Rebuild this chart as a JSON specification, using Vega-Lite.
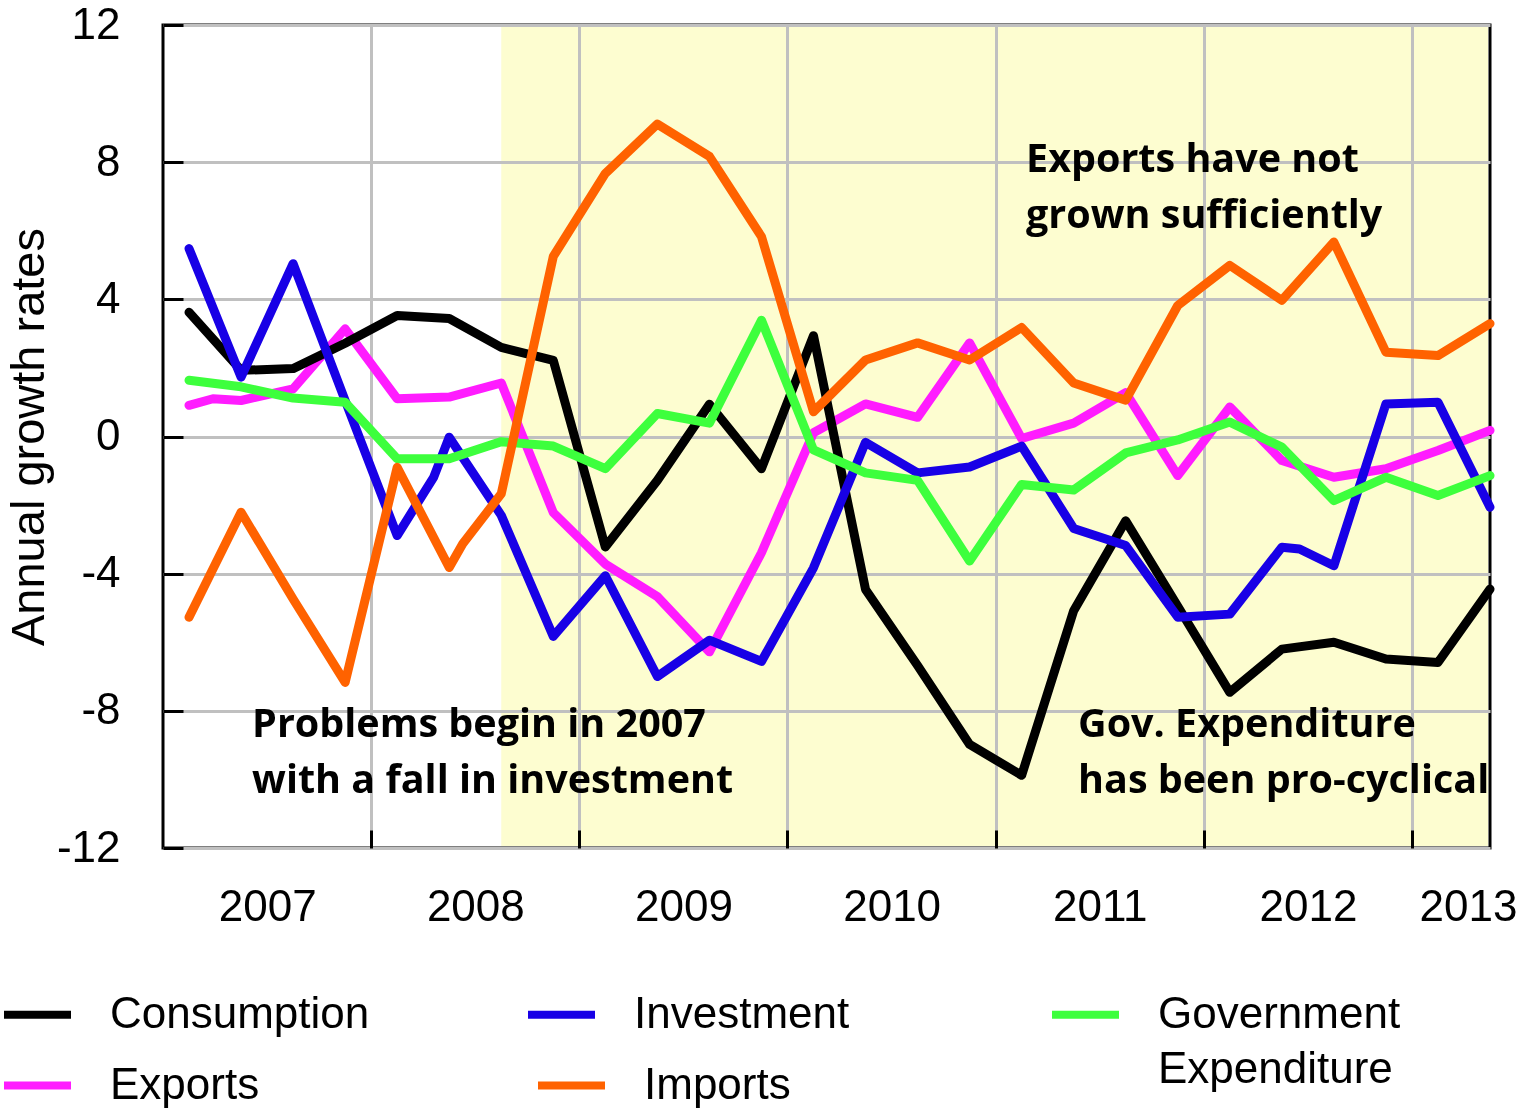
{
  "$schema": "https://vega.github.io/schema/vega-lite/v6.json",
  "width": 1327,
  "height": 823,
  "autosize": {"type": "none"},
  "padding": {"left": 163, "top": 25, "right": 28, "bottom": 263},
  "background": "white",
  "config": {
    "view": {"stroke": "black", "strokeWidth": 3},
    "font": "Liberation Sans",
    "axis": {"labelFont": "Liberation Sans", "labelColor": "black", "titleFont": "Liberation Sans", "titleColor": "black"},
    "legend": {
      "orient": "none", "direction": "horizontal", "title": null, "padding": 0, "gridAlign": "all",
      "symbolType": "stroke", "symbolSize": 4489, "symbolStrokeWidth": 8,
      "labelFont": "Liberation Sans", "labelFontSize": 44, "labelColor": "black", "labelLimit": 1000, "labelOffset": 35
    },
    "style": {"guide-label": {"lineHeight": 55}}
  },
  "datasets": {
    "band": [{"start": 2008.625, "end": 2013.375}],
    "notes": [
      {"x": 2011.146, "y": 7.71, "label": "Exports have not"},
      {"x": 2011.146, "y": 6.08, "label": "grown sufficiently"},
      {"x": 2007.428, "y": -8.76, "label": "Problems begin in 2007"},
      {"x": 2007.428, "y": -10.4, "label": "with a fall in investment"},
      {"x": 2011.396, "y": -8.76, "label": "Gov. Expenditure"},
      {"x": 2011.396, "y": -10.4, "label": "has been pro-cyclical"}
    ],
    "series": [
      {"t": 2007.125, "s": "Consumption", "v": 3.62},
      {"t": 2007.375, "s": "Consumption", "v": 1.93},
      {"t": 2007.625, "s": "Consumption", "v": 1.98},
      {"t": 2007.875, "s": "Consumption", "v": 2.72},
      {"t": 2008.125, "s": "Consumption", "v": 3.53},
      {"t": 2008.375, "s": "Consumption", "v": 3.44},
      {"t": 2008.625, "s": "Consumption", "v": 2.6},
      {"t": 2008.875, "s": "Consumption", "v": 2.22},
      {"t": 2009.125, "s": "Consumption", "v": -3.22},
      {"t": 2009.375, "s": "Consumption", "v": -1.28},
      {"t": 2009.625, "s": "Consumption", "v": 0.94},
      {"t": 2009.875, "s": "Consumption", "v": -0.94},
      {"t": 2010.125, "s": "Consumption", "v": 2.94},
      {"t": 2010.375, "s": "Consumption", "v": -4.46},
      {"t": 2010.625, "s": "Consumption", "v": -6.68},
      {"t": 2010.875, "s": "Consumption", "v": -8.98},
      {"t": 2011.125, "s": "Consumption", "v": -9.88},
      {"t": 2011.375, "s": "Consumption", "v": -5.08},
      {"t": 2011.625, "s": "Consumption", "v": -2.46},
      {"t": 2011.875, "s": "Consumption", "v": -4.95},
      {"t": 2012.125, "s": "Consumption", "v": -7.46},
      {"t": 2012.375, "s": "Consumption", "v": -6.2},
      {"t": 2012.625, "s": "Consumption", "v": -6.0},
      {"t": 2012.875, "s": "Consumption", "v": -6.49},
      {"t": 2013.125, "s": "Consumption", "v": -6.59},
      {"t": 2013.375, "s": "Consumption", "v": -4.45},

      {"t": 2007.125, "s": "Investment", "v": 5.48},
      {"t": 2007.375, "s": "Investment", "v": 1.73},
      {"t": 2007.625, "s": "Investment", "v": 5.04},
      {"t": 2007.875, "s": "Investment", "v": 1.05},
      {"t": 2008.125, "s": "Investment", "v": -2.89},
      {"t": 2008.3, "s": "Investment", "v": -1.19},
      {"t": 2008.375, "s": "Investment", "v": -0.02},
      {"t": 2008.625, "s": "Investment", "v": -2.3},
      {"t": 2008.875, "s": "Investment", "v": -5.83},
      {"t": 2009.125, "s": "Investment", "v": -4.06},
      {"t": 2009.375, "s": "Investment", "v": -7.0},
      {"t": 2009.625, "s": "Investment", "v": -5.94},
      {"t": 2009.875, "s": "Investment", "v": -6.56},
      {"t": 2010.125, "s": "Investment", "v": -3.83},
      {"t": 2010.375, "s": "Investment", "v": -0.17},
      {"t": 2010.625, "s": "Investment", "v": -1.06},
      {"t": 2010.875, "s": "Investment", "v": -0.89},
      {"t": 2011.125, "s": "Investment", "v": -0.28},
      {"t": 2011.375, "s": "Investment", "v": -2.68},
      {"t": 2011.625, "s": "Investment", "v": -3.18},
      {"t": 2011.875, "s": "Investment", "v": -5.27},
      {"t": 2012.125, "s": "Investment", "v": -5.18},
      {"t": 2012.375, "s": "Investment", "v": -3.23},
      {"t": 2012.46, "s": "Investment", "v": -3.28},
      {"t": 2012.625, "s": "Investment", "v": -3.77},
      {"t": 2012.875, "s": "Investment", "v": 0.95},
      {"t": 2013.125, "s": "Investment", "v": 1.0},
      {"t": 2013.375, "s": "Investment", "v": -2.06},

      {"t": 2007.125, "s": "Government Expenditure", "v": 1.64},
      {"t": 2007.375, "s": "Government Expenditure", "v": 1.45},
      {"t": 2007.625, "s": "Government Expenditure", "v": 1.12},
      {"t": 2007.875, "s": "Government Expenditure", "v": 1.0},
      {"t": 2008.125, "s": "Government Expenditure", "v": -0.65},
      {"t": 2008.375, "s": "Government Expenditure", "v": -0.65},
      {"t": 2008.625, "s": "Government Expenditure", "v": -0.15},
      {"t": 2008.875, "s": "Government Expenditure", "v": -0.28},
      {"t": 2009.125, "s": "Government Expenditure", "v": -0.94},
      {"t": 2009.375, "s": "Government Expenditure", "v": 0.67},
      {"t": 2009.625, "s": "Government Expenditure", "v": 0.39},
      {"t": 2009.875, "s": "Government Expenditure", "v": 3.39},
      {"t": 2010.125, "s": "Government Expenditure", "v": -0.39},
      {"t": 2010.375, "s": "Government Expenditure", "v": -1.06},
      {"t": 2010.625, "s": "Government Expenditure", "v": -1.28},
      {"t": 2010.875, "s": "Government Expenditure", "v": -3.63},
      {"t": 2011.125, "s": "Government Expenditure", "v": -1.4},
      {"t": 2011.375, "s": "Government Expenditure", "v": -1.56},
      {"t": 2011.625, "s": "Government Expenditure", "v": -0.48},
      {"t": 2011.875, "s": "Government Expenditure", "v": -0.1},
      {"t": 2012.125, "s": "Government Expenditure", "v": 0.42},
      {"t": 2012.375, "s": "Government Expenditure", "v": -0.31},
      {"t": 2012.625, "s": "Government Expenditure", "v": -1.87},
      {"t": 2012.875, "s": "Government Expenditure", "v": -1.19},
      {"t": 2013.125, "s": "Government Expenditure", "v": -1.72},
      {"t": 2013.375, "s": "Government Expenditure", "v": -1.14},

      {"t": 2007.125, "s": "Exports", "v": 0.91},
      {"t": 2007.24, "s": "Exports", "v": 1.1},
      {"t": 2007.375, "s": "Exports", "v": 1.05},
      {"t": 2007.625, "s": "Exports", "v": 1.39},
      {"t": 2007.875, "s": "Exports", "v": 3.14},
      {"t": 2008.125, "s": "Exports", "v": 1.1},
      {"t": 2008.375, "s": "Exports", "v": 1.15},
      {"t": 2008.625, "s": "Exports", "v": 1.56},
      {"t": 2008.875, "s": "Exports", "v": -2.22},
      {"t": 2009.125, "s": "Exports", "v": -3.72},
      {"t": 2009.375, "s": "Exports", "v": -4.67},
      {"t": 2009.625, "s": "Exports", "v": -6.28},
      {"t": 2009.875, "s": "Exports", "v": -3.39},
      {"t": 2010.125, "s": "Exports", "v": 0.11},
      {"t": 2010.375, "s": "Exports", "v": 0.95},
      {"t": 2010.625, "s": "Exports", "v": 0.56},
      {"t": 2010.875, "s": "Exports", "v": 2.73},
      {"t": 2011.125, "s": "Exports", "v": -0.06},
      {"t": 2011.375, "s": "Exports", "v": 0.39},
      {"t": 2011.625, "s": "Exports", "v": 1.28},
      {"t": 2011.875, "s": "Exports", "v": -1.14},
      {"t": 2012.125, "s": "Exports", "v": 0.86},
      {"t": 2012.375, "s": "Exports", "v": -0.7},
      {"t": 2012.625, "s": "Exports", "v": -1.19},
      {"t": 2012.875, "s": "Exports", "v": -0.94},
      {"t": 2013.125, "s": "Exports", "v": -0.41},
      {"t": 2013.375, "s": "Exports", "v": 0.18},

      {"t": 2007.125, "s": "Imports", "v": -5.27},
      {"t": 2007.375, "s": "Imports", "v": -2.21},
      {"t": 2007.625, "s": "Imports", "v": -4.74},
      {"t": 2007.875, "s": "Imports", "v": -7.17},
      {"t": 2008.125, "s": "Imports", "v": -0.9},
      {"t": 2008.375, "s": "Imports", "v": -3.82},
      {"t": 2008.44, "s": "Imports", "v": -3.13},
      {"t": 2008.625, "s": "Imports", "v": -1.67},
      {"t": 2008.875, "s": "Imports", "v": 5.25},
      {"t": 2009.125, "s": "Imports", "v": 7.67},
      {"t": 2009.375, "s": "Imports", "v": 9.11},
      {"t": 2009.625, "s": "Imports", "v": 8.17},
      {"t": 2009.875, "s": "Imports", "v": 5.83},
      {"t": 2010.125, "s": "Imports", "v": 0.72},
      {"t": 2010.375, "s": "Imports", "v": 2.23},
      {"t": 2010.625, "s": "Imports", "v": 2.73},
      {"t": 2010.875, "s": "Imports", "v": 2.23},
      {"t": 2011.125, "s": "Imports", "v": 3.18},
      {"t": 2011.375, "s": "Imports", "v": 1.56},
      {"t": 2011.625, "s": "Imports", "v": 1.06},
      {"t": 2011.875, "s": "Imports", "v": 3.82},
      {"t": 2012.125, "s": "Imports", "v": 4.99},
      {"t": 2012.375, "s": "Imports", "v": 3.97},
      {"t": 2012.625, "s": "Imports", "v": 5.67},
      {"t": 2012.875, "s": "Imports", "v": 2.46},
      {"t": 2013.125, "s": "Imports", "v": 2.36},
      {"t": 2013.375, "s": "Imports", "v": 3.29}
    ]
  },
  "layer": [
    {
      "data": {"name": "band"},
      "mark": {"type": "rect", "color": "#fdfdd0", "blend": "darken"},
      "encoding": {
        "x": {
          "field": "start", "type": "quantitative",
          "scale": {"domain": [2007, 2013.375], "nice": false, "zero": false},
          "axis": null
        },
        "x2": {"field": "end"}
      }
    },
    {
      "data": {"name": "series"},
      "transform": [{"filter": {"field": "s", "equal": "Exports"}}],
      "mark": {"type": "line", "strokeWidth": 9, "strokeCap": "round", "strokeJoin": "round"},
      "encoding": {
        "x": {"field": "t", "type": "quantitative", "scale": {"domain": [2007, 2013.375], "nice": false, "zero": false}, "axis": null},
        "y": {"field": "v", "type": "quantitative", "scale": {"domain": [-12, 12], "nice": false, "zero": false}, "axis": null},
        "color": {
          "field": "s", "type": "nominal",
          "scale": {"domain": ["Exports"], "range": ["#ff1cff"]},
          "legend": {"legendX": -163, "legendY": 1023, "columns": 1}
        }
      }
    },
    {
      "data": {"name": "series"},
      "transform": [{"filter": {"field": "s", "oneOf": ["Consumption", "Investment", "Government Expenditure"]}}],
      "mark": {"type": "line", "strokeWidth": 9, "strokeCap": "round", "strokeJoin": "round"},
      "encoding": {
        "x": {
          "field": "t", "type": "quantitative",
          "scale": {"domain": [2007, 2013.375], "nice": false, "zero": false},
          "axis": {
            "orient": "bottom", "values": [2008, 2009, 2010, 2011, 2012, 2013, 2013.375],
            "offset": -18,
            "grid": true, "gridColor": "#c0c0c0", "gridWidth": 3,
            "gridOpacity": {"condition": {"test": "datum.value > 2013.1", "value": 0}, "value": 1},
            "ticks": true, "tickSize": 18, "tickColor": "black", "tickWidth": 3,
            "tickOpacity": {"condition": {"test": "datum.value > 2013.1", "value": 0}, "value": 1},
            "labelExpr": "datum.value > 2013.1 ? '2013' : toString(datum.value - 1)",
            "labelOffset": {"condition": {"test": "datum.value > 2013.1", "value": -22}, "value": -104},
            "domain": false, "title": null,
            "labelFontSize": 44, "labelPadding": 37, "labelFlush": false, "labelOverlap": false, "labelBound": false
          }
        },
        "y": {
          "field": "v", "type": "quantitative",
          "scale": {"domain": [-12, 12], "nice": false, "zero": false},
          "axis": {
            "values": [-12, -8, -4, 0, 4, 8, 12],
            "offset": -20,
            "grid": true, "gridColor": "#c0c0c0", "gridWidth": 3,
            "ticks": true, "tickSize": 20, "tickColor": "black", "tickWidth": 3,
            "domain": false,
            "labelExpr": "toString(datum.value)",
            "labelFontSize": 44, "labelPadding": 43, "labelFlush": false, "labelOverlap": false,
            "title": "Annual growth rates", "titleFontSize": 47, "titleFontWeight": "normal", "titlePadding": 3
          }
        },
        "color": {
          "field": "s", "type": "nominal",
          "scale": {
            "domain": ["Consumption", "Investment", "Government Expenditure"],
            "range": ["#000000", "#1800e6", "#3dff3d"]
          },
          "legend": {
            "legendX": -163, "legendY": 952, "columns": 3, "columnPadding": 142,
            "labelExpr": "datum.label == 'Government Expenditure' ? ['Government', 'Expenditure'] : [datum.label, '']"
          }
        }
      }
    },
    {
      "data": {"name": "series"},
      "transform": [{"filter": {"field": "s", "equal": "Imports"}}],
      "mark": {"type": "line", "strokeWidth": 9, "strokeCap": "round", "strokeJoin": "round"},
      "encoding": {
        "x": {"field": "t", "type": "quantitative", "scale": {"domain": [2007, 2013.375], "nice": false, "zero": false}, "axis": null},
        "y": {"field": "v", "type": "quantitative", "scale": {"domain": [-12, 12], "nice": false, "zero": false}, "axis": null},
        "color": {
          "field": "s", "type": "nominal",
          "scale": {"domain": ["Imports"], "range": ["#ff6200"]},
          "legend": {"legendX": 371, "legendY": 1023, "columns": 1}
        }
      }
    },
    {
      "data": {"name": "notes"},
      "mark": {"type": "text", "font": "Open Sans", "fontWeight": "bold", "fontSize": 39.5, "align": "left", "baseline": "alphabetic", "color": "black"},
      "encoding": {
        "x": {"field": "x", "type": "quantitative", "scale": {"domain": [2007, 2013.375], "nice": false, "zero": false}, "axis": null},
        "y": {"field": "y", "type": "quantitative", "scale": {"domain": [-12, 12], "nice": false, "zero": false}, "axis": null},
        "text": {"field": "label"}
      }
    }
  ],
  "resolve": {
    "axis": {"x": "independent", "y": "independent"},
    "scale": {"color": "independent"},
    "legend": {"color": "independent"}
  }
}
